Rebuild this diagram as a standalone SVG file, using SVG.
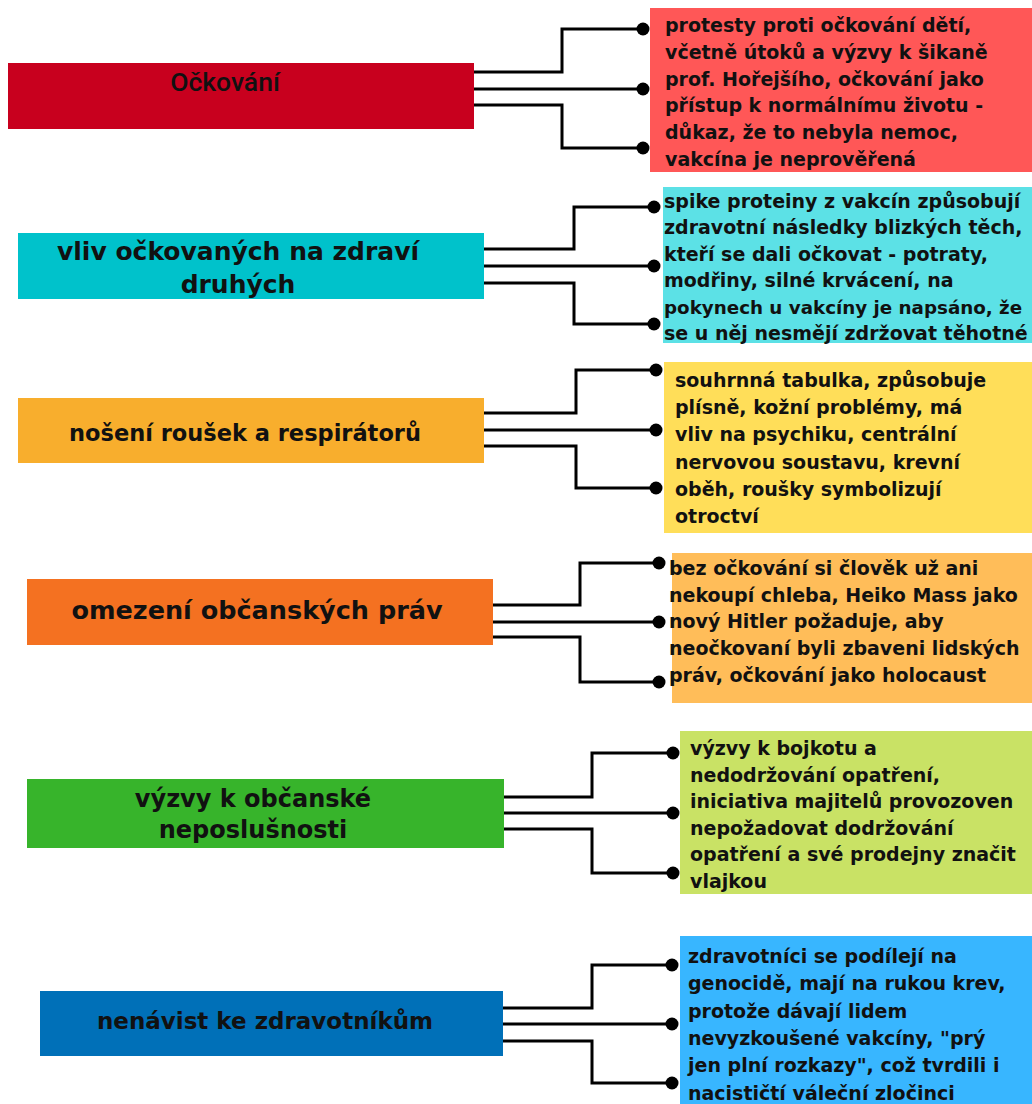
<svg xmlns="http://www.w3.org/2000/svg" width="1032" height="1104" viewBox="0 0 1032 1104">
<style>
.t{font-family:"DejaVu Sans",sans-serif;font-weight:bold;fill:#111;}
.b{font-size:19px;}
.h{text-anchor:middle;}
.c{fill:none;stroke:#000;stroke-width:3;}
.d{fill:#000;}
</style>
<rect width="1032" height="1104" fill="#fff"/>
<g id="connectors">
<path class="c" d="M474 72H562V29H643M474 89H643M474 105H562V148H643"/>
<path class="c" d="M484 249H574V207H654M484 266H654M484 283H574V324H654"/>
<path class="c" d="M484 413H576V370H656M484 430H656M484 446H576V488H656"/>
<path class="c" d="M493 605H580V563H659M493 622H659M493 637H580V682H659"/>
<path class="c" d="M504 797H592V753H673M504 813H673M504 829H592V873H673"/>
<path class="c" d="M503 1008H592V965H672M503 1024H672M503 1041H592V1083H672"/>
<circle class="d" cx="643" cy="29" r="6.5"/><circle class="d" cx="643" cy="89" r="6.5"/><circle class="d" cx="643" cy="148" r="6.5"/>
<circle class="d" cx="654" cy="207" r="6.5"/><circle class="d" cx="654" cy="266" r="6.5"/><circle class="d" cx="654" cy="324" r="6.5"/>
<circle class="d" cx="656" cy="370" r="6.5"/><circle class="d" cx="656" cy="430" r="6.5"/><circle class="d" cx="656" cy="488" r="6.5"/>
<circle class="d" cx="659" cy="563" r="6.5"/><circle class="d" cx="659" cy="622" r="6.5"/><circle class="d" cx="659" cy="682" r="6.5"/>
<circle class="d" cx="673" cy="753" r="6.5"/><circle class="d" cx="673" cy="813" r="6.5"/><circle class="d" cx="673" cy="873" r="6.5"/>
<circle class="d" cx="672" cy="965" r="6.5"/><circle class="d" cx="672" cy="1024" r="6.5"/><circle class="d" cx="672" cy="1083" r="6.5"/>
</g>
<g id="n1">
<rect x="8" y="63" width="466" height="66" fill="#C8001E"/>
<text x="225" y="91" text-anchor="middle" style="font-family:Roboto,sans-serif;font-weight:500;font-size:26.5px;fill:#111">Očkování</text>
</g>
<g id="n1d">
<rect x="650" y="8" width="382" height="164" fill="#FF5757"/>
<text class="t b"><tspan x="665" y="32">protesty proti očkování dětí,</tspan><tspan x="665" y="58.8">včetně útoků a výzvy k šikaně</tspan><tspan x="665" y="85.6">prof. Hořejšího, očkování jako</tspan><tspan x="665" y="112.4">přístup k normálnímu životu -</tspan><tspan x="665" y="139.2">důkaz, že to nebyla nemoc,</tspan><tspan x="665" y="166">vakcína je neprověřená</tspan></text>
</g>
<g id="n2">
<rect x="18" y="233" width="466" height="66" fill="#00C2CB"/>
<text class="t h" style="font-size:25px"><tspan x="238" y="260">vliv očkovaných na zdraví</tspan><tspan x="238" y="293">druhých</tspan></text>
</g>
<g id="n2d">
<rect x="663" y="187" width="369" height="156" fill="#5CE1E6"/>
<text class="t b"><tspan x="664" y="208">spike proteiny z vakcín způsobují</tspan><tspan x="664" y="234.4">zdravotní následky blizkých těch,</tspan><tspan x="664" y="260.8">kteří se dali očkovat - potraty,</tspan><tspan x="664" y="287.2">modřiny, silné krvácení, na</tspan></text>
<text class="t" x="664" y="313.6" style="font-size:18.3px">pokynech u vakcíny je napsáno, že</text>
<text class="t b" x="664" y="340">se u něj nesmějí zdržovat těhotné</text>
</g>
<g id="n3">
<rect x="18" y="398" width="466" height="65" fill="#F8AE2D"/>
<text class="t h" x="245" y="441" style="font-size:22.5px">nošení roušek a respirátorů</text>
</g>
<g id="n3d">
<rect x="664" y="362" width="368" height="171" fill="#FFDE59"/>
<text class="t b"><tspan x="675" y="387">souhrnná tabulka, způsobuje</tspan><tspan x="675" y="414.2">plísně, kožní problémy,  má</tspan><tspan x="675" y="441.4">vliv na psychiku, centrální</tspan><tspan x="675" y="468.6">nervovou soustavu, krevní</tspan><tspan x="675" y="495.8">oběh, roušky symbolizují</tspan><tspan x="675" y="523">otroctví</tspan></text>
</g>
<g id="n4">
<rect x="27" y="579" width="466" height="66" fill="#F47121"/>
<text class="t h" x="257" y="619" style="font-size:25.5px">omezení občanských práv</text>
</g>
<g id="n4d">
<rect x="672" y="553" width="360" height="150" fill="#FFBD59"/>
<text class="t b"><tspan x="669" y="575">bez očkování si člověk už ani</tspan><tspan x="669" y="601.7">nekoupí chleba, Heiko Mass jako</tspan><tspan x="669" y="628.4">nový Hitler požaduje, aby</tspan><tspan x="669" y="655.1">neočkovaní byli zbaveni lidských</tspan><tspan x="669" y="681.8">práv, očkování jako holocaust</tspan></text>
</g>
<g id="n5">
<rect x="27" y="779" width="477" height="69" fill="#37B42B"/>
<text class="t h" style="font-size:24px"><tspan x="253" y="807">výzvy k občanské</tspan><tspan x="253" y="838">neposlušnosti</tspan></text>
</g>
<g id="n5d">
<rect x="680" y="731" width="352" height="163" fill="#C9E265"/>
<text class="t b"><tspan x="690" y="755">výzvy k bojkotu a</tspan><tspan x="690" y="781.6">nedodržování opatření,</tspan><tspan x="690" y="808.2">iniciativa majitelů provozoven</tspan><tspan x="690" y="834.8">nepožadovat dodržování</tspan><tspan x="690" y="861.4">opatření a své prodejny značit</tspan><tspan x="690" y="888">vlajkou</tspan></text>
</g>
<g id="n6">
<rect x="40" y="991" width="463" height="65" fill="#0070B8"/>
<text class="t h" x="265" y="1029" style="font-size:23px">nenávist ke zdravotníkům</text>
</g>
<g id="n6d">
<rect x="680" y="936" width="352" height="168" fill="#38B6FF"/>
<text class="t b"><tspan x="688" y="963">zdravotníci se podílejí na</tspan><tspan x="688" y="990.3">genocidě, mají na rukou krev,</tspan><tspan x="688" y="1017.6">protože dávají lidem</tspan><tspan x="688" y="1044.9">nevyzkoušené vakcíny, "prý</tspan><tspan x="688" y="1072.2">jen plní rozkazy", což tvrdili i</tspan><tspan x="688" y="1099.5">nacističtí váleční zločinci</tspan></text>
</g>
</svg>
